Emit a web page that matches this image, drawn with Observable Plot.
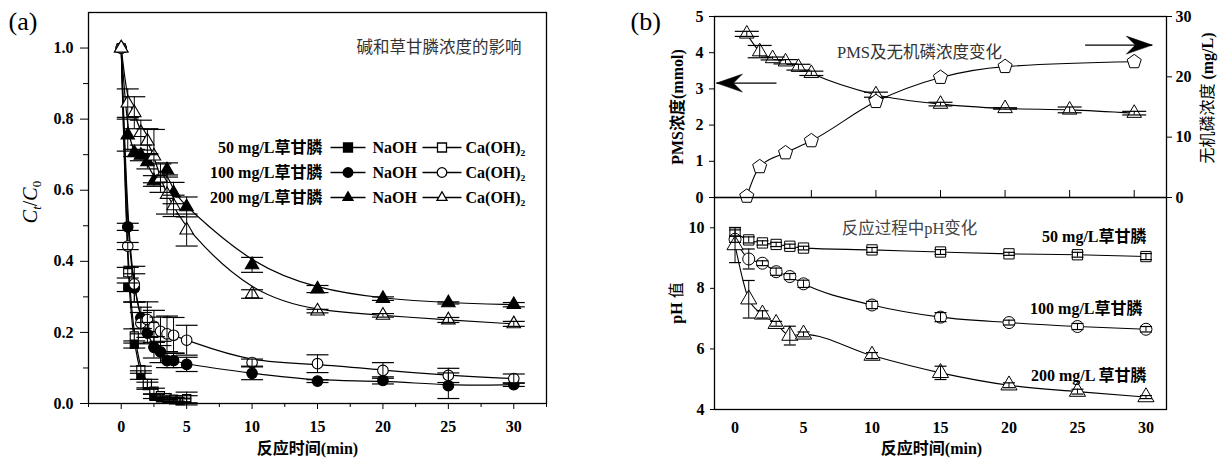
<!DOCTYPE html>
<html><head><meta charset="utf-8">
<script src="https://cdn.jsdelivr.net/npm/d3@7"></script>
<script src="https://cdn.jsdelivr.net/npm/@observablehq/plot@0.6"></script>
<style>
body{margin:0;background:#fff;}
#root{position:relative;width:1225px;height:461px;overflow:hidden;background:#fff;}
#root > svg{position:absolute;overflow:visible;}
</style></head><body><div id="root"></div>
<script>
// ---------- Panel (a) data: Ct/C0 vs time ----------
const t50 = [0,0.5,1,1.5,2,2.5,3,3.5,4,4.5,5];
const tA = [0,0.5,1,1.5,2,2.5,3,3.5,4,5,10,15,20,25,30];
const tA200N = [0,0.5,1,1.5,2,2.5,3.5,4,5,10,15,20,25,30];
const naoh50 = [1,0.327,0.166,0.08,0.05,0.02,0.016,0.012,0.01,0.008,0.012];
const naoh50Err = [0,0.012,0.01,0.012,0.01,0.006,0.005,0.005,0.005,0.005,0.01];
const caoh50 = [1,0.368,0.19,0.095,0.056,0.035,0.022,0.016,0.012,0.01,0.014];
const caoh50Err = [0,0.015,0.02,0.01,0.012,0.008,0.006,0.005,0.005,0.005,0.018];
const naoh100 = [1,0.497,0.325,0.241,0.198,0.158,0.145,0.121,0.121,0.11,0.085,0.063,0.065,0.05,0.053];
const naoh100Err = [0,0.01,0.04,0.03,0.03,0.03,0.03,0.02,0.02,0.02,0.018,0.004,0.01,0.036,0.005];
const caoh100 = [1,0.443,0.336,0.226,0.236,0.217,0.203,0.196,0.192,0.178,0.115,0.112,0.093,0.079,0.07];
const caoh100Err = [0,0.01,0.05,0.03,0.05,0.045,0.04,0.05,0.05,0.042,0.01,0.025,0.022,0.02,0.013];
const naoh200 = [1,0.755,0.705,0.698,0.68,0.626,0.657,0.592,0.553,0.39,0.322,0.295,0.283,0.278];
const naoh200Err = [0,0.045,0.01,0.015,0.02,0.015,0.02,0.03,0.028,0.021,0.01,0.005,0.003,0.006];
const caoh200 = [1,0.845,0.818,0.762,0.738,0.696,0.634,0.588,0.556,0.488,0.308,0.26,0.248,0.235,0.224];
const caoh200Err = [0,0.04,0.045,0.035,0.035,0.075,0.04,0.055,0.03,0.045,0.012,0.005,0.005,0.007,0.007];
const legendRows = ["50 mg/L草甘膦","100 mg/L草甘膦","200 mg/L草甘膦"];
const legendAlkali = ["NaOH","Ca(OH)₂"];

// ---------- Panel (b) data ----------
const tPMS = [0,1,2,3,4,5,10,15,20,25,30];
const pms = [4.52,4.03,3.84,3.75,3.6,3.43,2.84,2.58,2.46,2.42,2.33];
const pmsErr = [0.07,0.17,0.04,0.06,0.08,0.06,0.07,0.05,0.02,0.08,0.05];
const tP = [0,1,3,5,10,15,20,30];
const phosphate = [0.2,5.1,7.4,9.4,15.9,19.9,21.7,22.5];
const tPH = [0,1,2,3,4,5,10,15,20,25,30];
const ph50 = [9.83,9.6,9.5,9.45,9.39,9.33,9.27,9.2,9.14,9.11,9.05];
const ph50Err = [0.1,0.1,0.07,0.07,0.07,0.06,0.08,0.08,0.05,0.08,0.1];
const ph100 = [9.62,8.97,8.83,8.55,8.39,8.15,7.45,7.05,6.87,6.74,6.65];
const ph100Err = [0.1,0.33,0.08,0.12,0.1,0.12,0.12,0.15,0.08,0.1,0.09];
const ph200 = [9.43,7.64,7.14,6.83,6.44,6.48,5.78,5.21,4.8,4.59,4.41];
const ph200Err = [0.58,0.62,0.12,0.08,0.31,0.08,0.1,0.22,0.08,0.08,0.05];

// ---------- helpers ----------
const serif = '"Liberation Serif","Noto Sans CJK SC",serif';
const root = document.getElementById("root");
const rowsOf = (t, v, e) => t.map((x, i) => ({t: x, v: v[i], e: e ? e[i] : 0}));
const capSym = {draw(ctx, size) { const h = Math.sqrt(size / Math.PI); ctx.moveTo(-h, 0); ctx.lineTo(h, 0); }};
const pentagonSym = {draw(ctx, size) {
  const R = Math.sqrt(size / Math.PI);
  for (let i = 0; i < 5; i++) {
    const a = -Math.PI / 2 + i * 2 * Math.PI / 5;
    const px = R * Math.cos(a), py = R * Math.sin(a);
    if (i === 0) ctx.moveTo(px, py); else ctx.lineTo(px, py);
  }
  ctx.closePath();
}};
const stealthSym = {draw(ctx) { ctx.moveTo(0, 0); ctx.lineTo(-26, -9); ctx.lineTo(-17, 0); ctx.lineTo(-26, 9); ctx.closePath(); }};
function legendSym(shape, half, s) {
  return {draw(ctx) {
    const g = shape === "triangle" ? 0.667 * s : s;
    ctx.moveTo(-half, 0); ctx.lineTo(-g, 0);
    ctx.moveTo(g, 0); ctx.lineTo(half, 0);
    if (shape === "square") { ctx.moveTo(-s, -s); ctx.lineTo(s, -s); ctx.lineTo(s, s); ctx.lineTo(-s, s); ctx.closePath(); }
    else if (shape === "circle") { ctx.moveTo(s, 0); ctx.arc(0, 0, s, 0, 2 * Math.PI); }
    else { const h = s * Math.sqrt(3); ctx.moveTo(0, -2 * h / 3); ctx.lineTo(s, h / 3); ctx.lineTo(-s, h / 3); ctx.closePath(); }
  }};
}
function errMarks(rows, capR, sw = 1) {
  const r = rows.filter(d => d.e > 0);
  return [
    Plot.ruleX(r, {x: "t", y1: d => d.v - d.e, y2: d => d.v + d.e, stroke: "black", strokeWidth: sw}),
    Plot.dot(r.flatMap(d => [{t: d.t, c: d.v - d.e}, {t: d.t, c: d.v + d.e}]),
      {x: "t", y: "c", symbol: capSym, r: capR, stroke: "black", fill: "none", strokeWidth: 1.2})
  ];
}
const txt = (s, o) => Plot.text([s], {text: d => d, lineAnchor: "middle", ...o});
const place = (svg, left, top) => { svg.style.left = left + "px"; svg.style.top = top + "px"; root.appendChild(svg); return svg; };
const baseStyle = `font-family:${serif};font-size:16px;font-weight:bold;color:black;background:transparent;overflow:visible;`;

// ---------- Panel (a) ----------
const seriesA = [
  {t: t50, v: naoh50, e: naoh50Err, symbol: "square", fill: "black", r: 4.6},
  {t: t50, v: caoh50, e: caoh50Err, symbol: "square", fill: "white", r: 4.6},
  {t: tA, v: naoh100, e: naoh100Err, symbol: "circle", fill: "black", r: 5.3},
  {t: tA, v: caoh100, e: caoh100Err, symbol: "circle", fill: "white", r: 5.3},
  {t: tA200N, v: naoh200, e: naoh200Err, symbol: "triangle", fill: "black", r: 5},
  {t: tA, v: caoh200, e: caoh200Err, symbol: "triangle", fill: "white", r: 5}
].map(s => ({...s, rows: rowsOf(s.t, s.v, s.e)}));

const legendShapes = ["square", "circle", "triangle"];
const legendMarks = [];
legendRows.forEach((lab, i) => {
  const dy = 135 + 25 * i;
  const s = legendShapes[i] === "circle" ? 4.8 : legendShapes[i] === "triangle" ? 5 : 4.5;
  legendMarks.push(txt(lab, {frameAnchor: "top-left", dx: 234, dy, textAnchor: "end", fontSize: 16, fontWeight: "bold"}));
  legendMarks.push(Plot.dot([0], {frameAnchor: "top-left", dx: 259.5, dy, r: 1, symbol: legendSym(legendShapes[i], 17.5, s), fill: "black", stroke: "black", strokeWidth: 1.3}));
  legendMarks.push(txt(legendAlkali[0], {frameAnchor: "top-left", dx: 284, dy, textAnchor: "start", fontSize: 16, fontWeight: "bold"}));
  legendMarks.push(Plot.dot([0], {frameAnchor: "top-left", dx: 353.5, dy, r: 1, symbol: legendSym(legendShapes[i], 19.5, s), fill: "white", stroke: "black", strokeWidth: 1.3}));
  legendMarks.push(txt(legendAlkali[1], {frameAnchor: "top-left", dx: 377, dy, textAnchor: "start", fontSize: 16, fontWeight: "bold"}));
});

const plotA = Plot.plot({
  width: 600, height: 461,
  marginLeft: 88, marginRight: 54, marginTop: 12, marginBottom: 58,
  style: baseStyle,
  x: {domain: [-2.5, 32.5]},
  y: {domain: [0, 1.1]},
  marks: [
    Plot.axisY({ticks: [0, 0.2, 0.4, 0.6, 0.8, 1.0], tickFormat: d3.format(".1f"), tickSize: 8, tickPadding: 7, label: null, fontSize: 16}),
    Plot.axisY({ticks: [0.1, 0.3, 0.5, 0.7, 0.9], tickFormat: () => "", tickSize: 5, label: null}),
    Plot.axisX({ticks: [0, 5, 10, 15, 20, 25, 30], tickSize: 6, tickPadding: 11, label: null, fontSize: 16}),
    Plot.axisX({ticks: [-2.5, 2.5, 7.5, 12.5, 17.5, 22.5, 27.5, 32.5], tickFormat: () => "", tickSize: 4, label: null}),
    ...seriesA.map(s => Plot.line(s.rows, {x: "t", y: "v", curve: "basis", stroke: "black", strokeWidth: 1.2})),
    ...seriesA.map(s => Plot.dot(s.rows, {x: "t", y: "v", symbol: s.symbol, r: s.r, fill: s.fill, stroke: "black", strokeWidth: 1.1})),
    ...seriesA.flatMap(s => errMarks(s.rows, 11)),
    Plot.frame({stroke: "black", strokeWidth: 1.3}),
    txt("碱和草甘膦浓度的影响", {frameAnchor: "top-right", dx: -25, dy: 35, textAnchor: "end", fontSize: 16.5, fontWeight: "normal", fill: "#333"}),
    ...legendMarks,
    txt("反应时间(min)", {frameAnchor: "bottom", dx: -10, dy: 45, textAnchor: "middle", fontSize: 16, fontWeight: "bold"}),
    txt("(a)", {frameAnchor: "top-left", dx: -80, dy: 9, textAnchor: "start", fontSize: 26, fontWeight: "normal"})
  ]
});
place(plotA, 0, 0);
{
  const lab = d3.select(plotA).append("text")
    .attr("transform", "translate(37,202) rotate(-90)")
    .attr("text-anchor", "middle")
    .style("font-size", "20px").style("font-weight", "normal").style("font-family", serif);
  lab.append("tspan").style("font-style", "italic").text("C");
  lab.append("tspan").style("font-style", "italic").style("font-size", "13px").attr("dy", 4).text("t");
  lab.append("tspan").attr("dy", -4).text("/");
  lab.append("tspan").style("font-style", "italic").text("C");
  lab.append("tspan").style("font-size", "13px").attr("dy", 4).text("0");
}

// ---------- Panel (b) top: PMS (left) ----------
const pmsRows = rowsOf(tPMS, pms, pmsErr);
const pRows = rowsOf(tP, phosphate);
const arrowNotes = [
  {x1: 2.3, x2: -2.35, y: 3.16, rot: 180},
  {x1: 26.2, x2: 31.4, y: 4.21, rot: 0}
];
const topCommon = {width: 625, height: 197, marginLeft: 114, marginRight: 59, marginTop: 16, marginBottom: 0, x: {domain: [-2.5, 32.5]}};
const plotB1 = Plot.plot({
  ...topCommon,
  style: baseStyle,
  y: {domain: [0, 5]},
  marks: [
    Plot.axisY({ticks: [0, 1, 2, 3, 4, 5], tickFormat: d3.format("d"), tickSize: 5, tickPadding: 6, label: null, fontSize: 16}),
    Plot.axisX({ticks: [0, 5, 10, 15, 20, 25, 30], tickSize: -7, tickFormat: () => "", label: null}),
    Plot.line(pmsRows, {x: "t", y: "v", curve: "monotone-x", stroke: "black", strokeWidth: 1.1}),
    Plot.dot(pmsRows, {x: "t", y: "v", symbol: "triangle", r: 5.4, fill: "white", stroke: "black", strokeWidth: 1}),
    ...errMarks(pmsRows, 12),
    Plot.link(arrowNotes, {x1: "x1", x2: "x2", y1: "y", y2: "y", stroke: "black", strokeWidth: 1.4}),
    Plot.dot(arrowNotes, {x: "x2", y: "y", symbol: stealthSym, rotate: "rot", r: 1, fill: "black", stroke: "black", strokeWidth: 0.5}),
    Plot.frame({stroke: "black", strokeWidth: 1.3}),
    txt("PMS及无机磷浓度变化", {frameAnchor: "top-left", dx: 205, dy: 36, textAnchor: "middle", fontSize: 16.5, fontWeight: "normal", fill: "#333"}),
    txt("PMS浓度(mmol)", {frameAnchor: "left", dx: -37, dy: 0, rotate: -90, textAnchor: "middle", fontSize: 16, fontWeight: "bold"}),
    txt("(b)", {frameAnchor: "top-left", dx: -84, dy: 5, textAnchor: "start", fontSize: 26, fontWeight: "normal"})
  ]
});
place(plotB1, 600, 0);

// ---------- Panel (b) top: inorganic phosphate (right axis overlay) ----------
const plotB2 = Plot.plot({
  ...topCommon,
  style: baseStyle,
  x: {domain: [-2.5, 32.5], axis: null},
  y: {domain: [0, 30]},
  marks: [
    Plot.axisY({anchor: "right", ticks: [0, 10, 20, 30], tickFormat: d3.format("d"), tickSize: 5, tickPadding: 4, label: null, fontSize: 16}),
    Plot.line(pRows, {x: "t", y: "v", curve: "monotone-x", stroke: "black", strokeWidth: 1.1}),
    Plot.dot(pRows, {x: "t", y: "v", symbol: pentagonSym, r: 7.4, fill: "white", stroke: "black", strokeWidth: 1})
  ]
});
place(plotB2, 600, 0);
{
  const lab = d3.select(plotB2).append("text")
    .attr("transform", "translate(613,98) rotate(-90)")
    .attr("text-anchor", "middle")
    .style("font-size", "16px").style("font-family", serif);
  lab.append("tspan").style("font-weight", "normal").text("无机磷浓度 ");
  lab.append("tspan").style("font-weight", "bold").text("(mg/L)");
}

// ---------- Panel (b) bottom: pH ----------
const phSeries = [
  {rows: rowsOf(tPH, ph50, ph50Err), symbol: "square", r: 5.8},
  {rows: rowsOf(tPH, ph100, ph100Err), symbol: "circle", r: 6},
  {rows: rowsOf(tPH, ph200, ph200Err), symbol: "triangle", r: 6}
];
const phLabels = ["50 mg/L草甘膦", "100 mg/L草甘膦", "200 mg/L 草甘膦"];
const plotB3 = Plot.plot({
  width: 625, height: 264, marginLeft: 114, marginRight: 59, marginTop: 0, marginBottom: 52,
  style: baseStyle,
  x: {domain: [-1.5, 31.5]},
  y: {domain: [4, 11]},
  marks: [
    Plot.axisY({ticks: [4, 6, 8, 10], tickFormat: d3.format("d"), tickSize: 4, tickPadding: 6, label: null, fontSize: 16}),
    Plot.axisX({ticks: [0, 5, 10, 15, 20, 25, 30], tickSize: 0, tickPadding: 12, label: null, fontSize: 16}),
    ...phSeries.map(s => Plot.line(s.rows, {x: "t", y: "v", curve: "monotone-x", stroke: "black", strokeWidth: 1.1})),
    ...phSeries.map(s => Plot.dot(s.rows, {x: "t", y: "v", symbol: s.symbol, r: s.r, fill: "white", stroke: "black", strokeWidth: 1})),
    ...phSeries.flatMap(s => errMarks(s.rows, 6)),
    Plot.frame({stroke: "black", strokeWidth: 1.3}),
    txt("反应过程中pH变化", {frameAnchor: "top-left", dx: 195, dy: 31, textAnchor: "middle", fontSize: 16.5, fontWeight: "normal", fill: "#444"}),
    txt(phLabels[0], {frameAnchor: "top-right", dx: -20, dy: 39, textAnchor: "end", fontSize: 16, fontWeight: "bold"}),
    txt(phLabels[1], {frameAnchor: "top-right", dx: -24, dy: 111, textAnchor: "end", fontSize: 16, fontWeight: "bold"}),
    txt(phLabels[2], {frameAnchor: "top-right", dx: -20, dy: 178, textAnchor: "end", fontSize: 16, fontWeight: "bold"}),
    txt("反应时间(min)", {frameAnchor: "bottom", dx: -9, dy: 39, textAnchor: "middle", fontSize: 16, fontWeight: "bold"})
  ]
});
place(plotB3, 600, 197);
{
  const lab = d3.select(plotB3).append("text")
    .attr("transform", "translate(82,106) rotate(-90)")
    .attr("text-anchor", "middle")
    .style("font-size", "16px").style("font-family", serif);
  lab.append("tspan").style("font-weight", "bold").text("pH ");
  lab.append("tspan").style("font-weight", "normal").text("值");
}
</script></body></html>
